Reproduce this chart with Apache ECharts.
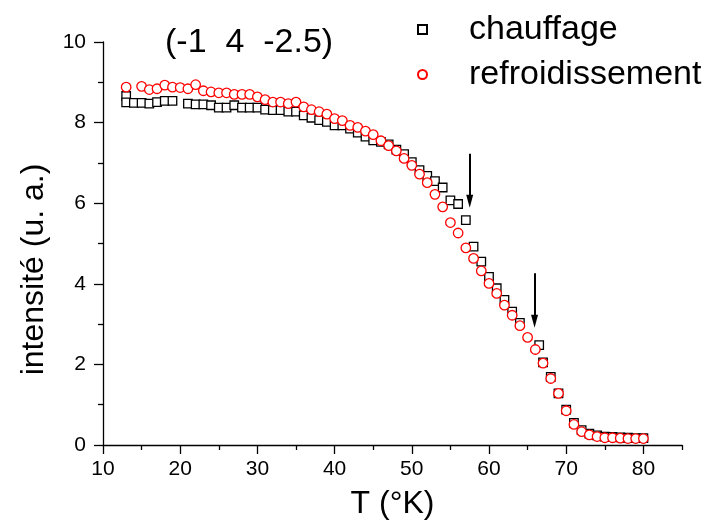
<!DOCTYPE html>
<html><head><meta charset="utf-8">
<script src="https://cdn.jsdelivr.net/npm/echarts@6/dist/echarts.min.js"></script>
<style>html,body{margin:0;padding:0;background:#fff}#c{width:706px;height:525px}</style>
</head><body><div id="c"></div>
<script>
// ---- data ----
const chauffageT = [13,13,14,15,16,17,18,19,21,22,23,24,25,26,27,28,29,30,31,32,33,34,35,36,37,38,39,40,41,42,43,44,45,46,47,48,49,50,51,52,53,54,55,56,57,58,59,60,61,62,63,64,66.5,67,68,69,70,71,72,73,74,75,76,77,78,79,80];
const chauffageI = [8.66,8.50,8.49,8.49,8.47,8.51,8.54,8.54,8.47,8.45,8.45,8.43,8.37,8.37,8.43,8.37,8.37,8.37,8.32,8.31,8.31,8.27,8.27,8.18,8.12,8.06,8.02,7.93,7.93,7.85,7.75,7.65,7.56,7.52,7.46,7.33,7.22,7.02,6.82,6.68,6.55,6.39,6.07,5.98,5.58,4.92,4.55,4.17,3.89,3.60,3.31,3.03,2.48,2.05,1.69,1.28,0.88,0.55,0.37,0.28,0.24,0.21,0.20,0.19,0.18,0.17,0.17];
const refroidT = [13,15,16,17,18,19,20,21,22,23,24,25,26,27,28,29,30,31,32,33,34,35,36,37,38,39,40,41,42,43,44,45,46,47,48,49,50,51,52,53,54,55,56,57,58,59,60,61,62,63,64,65,66,67,68,69,70,71,72,73,74,75,76,77,78,79,80];
const refroidI = [8.88,8.90,8.82,8.84,8.93,8.88,8.87,8.84,8.94,8.79,8.76,8.74,8.74,8.70,8.70,8.70,8.64,8.57,8.51,8.51,8.47,8.51,8.39,8.32,8.27,8.21,8.10,8.05,7.93,7.88,7.79,7.70,7.55,7.43,7.30,7.11,6.94,6.72,6.51,6.22,5.91,5.52,5.26,4.89,4.63,4.32,4.01,3.76,3.47,3.22,2.96,2.67,2.37,2.03,1.65,1.28,0.85,0.51,0.33,0.25,0.21,0.18,0.18,0.17,0.16,0.16,0.16];
// arrows: x position, top of shaft, centre of arrow head
const arrowT = [57.5, 65.9];
const arrowTop = [7.23, 4.26];
const arrowHead = [6.05, 3.07];
const xMajorTicks = [10,20,30,40,50,60,70,80];
const xMinorTicks = [15,25,35,45,55,65,75,85];
const seriesNames = ['chauffage','refroidissement'];
const titleText = '(-1  4  -2.5)';
const xName = 'T (°K)';
const yName = 'intensité (u. a.)';

const FONT = '"Liberation Sans", Arial, Helvetica, sans-serif';
const chart = echarts.init(document.getElementById('c'), null, {renderer:'canvas'});

const zip = (a,b) => a.map((v,i)=>[v,b[i]]);
const arrowLines = arrowT.map((t,i)=>[
  {coord:[t, arrowTop[i]], symbol:'none'},
  {coord:[t, arrowHead[i]], symbol:'triangle', symbolSize:[7,13]}
]);

const axisLineStyle = {color:'#000', width:1.3};

chart.setOption({
  animation:false,
  backgroundColor:'#fff',
  title:{text:titleText, left:165, top:26, padding:0,
    textStyle:{fontFamily:FONT, fontSize:34, fontWeight:'normal', color:'#000'}},
  legend:{
    orient:'vertical', left:412, top:7, itemWidth:9, itemHeight:9, itemGap:10,
    data:seriesNames,
    textStyle:{fontFamily:FONT, fontSize:34, color:'#000', lineHeight:35, padding:[0,0,0,37]}
  },
  grid:{left:103, right:24, top:42, bottom:80, containLabel:false},
  xAxis:[{
    type:'value', min:10, max:85, position:'bottom',
    name:xName, nameLocation:'middle', nameGap:43,
    nameTextStyle:{fontFamily:FONT, fontSize:32, color:'#000'},
    axisLine:{show:true, onZero:false, lineStyle:axisLineStyle},
    axisTick:{show:true, length:9, lineStyle:axisLineStyle, customValues:xMajorTicks},
    axisLabel:{fontFamily:FONT, fontSize:21, color:'#000', margin:14, customValues:xMajorTicks},
    splitLine:{show:false}
  },{
    type:'value', min:10, max:85, position:'bottom', offset:0,
    axisLine:{show:false, onZero:false},
    axisTick:{show:true, length:5, lineStyle:axisLineStyle, customValues:xMinorTicks},
    axisLabel:{show:false},
    splitLine:{show:false}
  }],
  yAxis:{
    type:'value', min:0, max:10, interval:2,
    name:yName, nameLocation:'middle', nameGap:53, nameRotate:90,
    nameTextStyle:{fontFamily:FONT, fontSize:32, color:'#000', padding:[0,52,0,0]},
    axisLine:{show:true, onZero:false, lineStyle:axisLineStyle},
    axisTick:{show:true, length:9, lineStyle:axisLineStyle},
    minorTick:{show:true, splitNumber:2, length:5, lineStyle:axisLineStyle},
    axisLabel:{fontFamily:FONT, fontSize:21, color:'#000', margin:17},
    splitLine:{show:false}, minorSplitLine:{show:false}
  },
  series:[{
    name:seriesNames[0], type:'scatter', xAxisIndex:0,
    symbol:'rect', symbolSize:8.5,
    itemStyle:{color:'#fff', borderColor:'#000', borderWidth:1.3, opacity:1},
    data:zip(chauffageT, chauffageI), z:2
  },{
    name:seriesNames[1], type:'scatter', xAxisIndex:0,
    symbol:'circle', symbolSize:9.5,
    itemStyle:{color:'#fff', borderColor:'#ff0000', borderWidth:1.3, opacity:1},
    data:zip(refroidT, refroidI), z:3,
    markLine:{silent:true, animation:false, label:{show:false},
      lineStyle:{color:'#000', width:2, type:'solid'},
      emphasis:{disabled:true},
      data:arrowLines}
  }]
});
</script></body></html>
